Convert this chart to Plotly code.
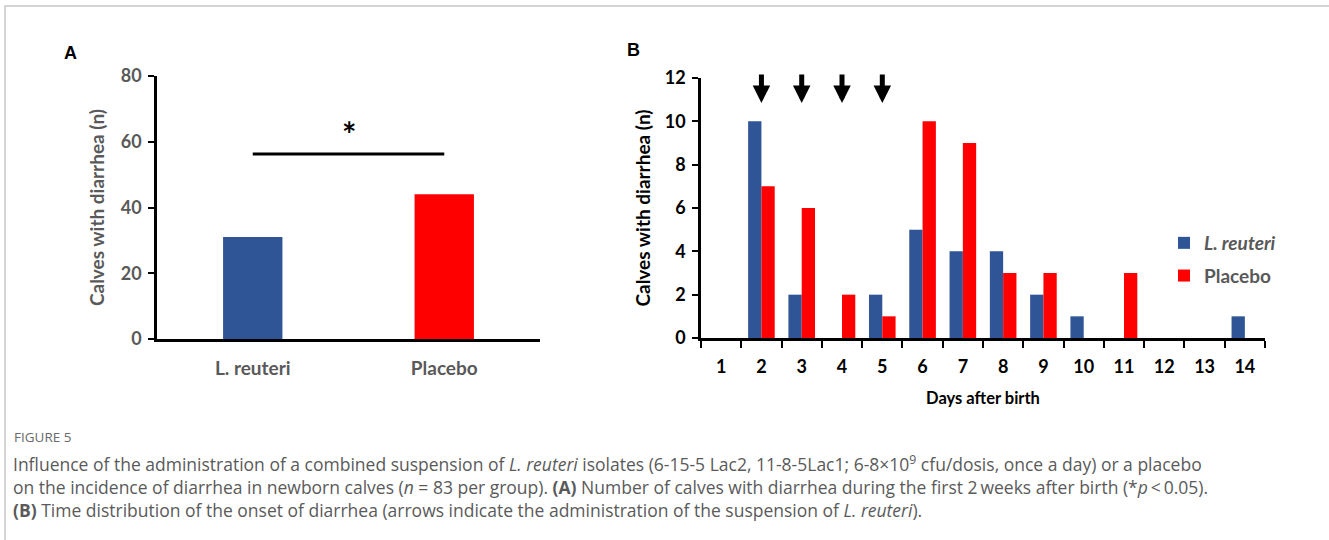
import plotly.graph_objects as go

W, H = 1329, 540

# ---- data ----
groups_a = ["L. reuteri", "Placebo"]
calves_a = [31, 44]
sig_y = 56.3

days = [str(d) for d in range(1, 15)]
reuteri_b = [0, 10, 2, 0, 2, 5, 4, 4, 2, 1, 0, 0, 0, 1]
placebo_b = [0, 7, 6, 2, 1, 10, 9, 3, 3, 0, 3, 0, 0, 0]
arrow_days = ["2", "3", "4", "5"]

yticks_a = [0, 20, 40, 60, 80]
yticks_b = [0, 2, 4, 6, 8, 10, 12]

BLUE = "#2F5597"
RED = "#FF0000"
GRAY = "#595959"
FONT = "Lato"

def px(x):
    return x / W

def py(y):
    return 1 - y / H

fig = go.Figure()

fig.add_trace(go.Bar(
    x=groups_a, y=calves_a, marker=dict(color=[BLUE, RED], line=dict(width=0)),
    width=0.31, xaxis="x", yaxis="y", showlegend=False,
))

fig.add_trace(go.Bar(
    x=days, y=reuteri_b, name="<i>L. reuteri</i>", marker=dict(color=BLUE, line=dict(width=0)),
    width=0.33, offset=-0.33, xaxis="x2", yaxis="y2", legendgroup="a",
))
fig.add_trace(go.Bar(
    x=days, y=placebo_b, name="Placebo", marker=dict(color=RED, line=dict(width=0)),
    width=0.33, offset=0.0, xaxis="x2", yaxis="y2", legendgroup="b",
))

axis_common = dict(showgrid=False, zeroline=False, showline=True, linecolor="black",
                   linewidth=2.5, automargin=False)

fig.update_layout(
    width=W, height=H,
    margin=dict(l=0, r=0, t=0, b=0),
    paper_bgcolor="white", plot_bgcolor="white",
    font=dict(family=FONT),
    barmode="group",
    xaxis=dict(domain=[px(157), px(540)], range=[-0.5, 1.5], type="category",
               ticks="", ticklabelstandoff=10,
               tickfont=dict(size=19, color=GRAY, family=FONT, weight="bold"),
               anchor="y", **axis_common),
    yaxis=dict(domain=[py(339), py(76)], range=[0, 80], tickvals=yticks_a,
               ticks="outside", ticklen=6, tickwidth=2, tickcolor="black", ticklabelstandoff=3,
               tickfont=dict(size=18, color=GRAY, family=FONT, weight="bold"),
               title=dict(text="Calves with diarrhea (n)", standoff=12,
                          font=dict(size=19, color=GRAY, family=FONT, weight="bold")),
               anchor="x", **axis_common),
    xaxis2=dict(domain=[px(701), px(1265)], range=[-0.5, 13.5], type="category",
                ticks="outside", tickson="boundaries", ticklen=7, tickwidth=2, tickcolor="black",
                ticklabelstandoff=11,
                tickfont=dict(size=18, color="black", family=FONT, weight="bold"),
                title=dict(text="Days after birth", standoff=17,
                           font=dict(size=16.5, color="black", family=FONT, weight="bold")),
                anchor="y2", **axis_common),
    yaxis2=dict(domain=[py(338), py(78)], range=[0, 12], tickvals=yticks_b,
                ticks="outside", ticklen=6, tickwidth=2, tickcolor="black", ticklabelstandoff=3,
                tickfont=dict(size=18, color="black", family=FONT, weight="bold"),
                title=dict(text="Calves with diarrhea (n)", standoff=10,
                           font=dict(size=19, color="black", family=FONT, weight="bold")),
                anchor="x2", **axis_common),
    legend=dict(x=px(1164), y=py(224), xanchor="left", yanchor="top",
                bgcolor="rgba(0,0,0,0)", tracegroupgap=5, traceorder="grouped",
                font=dict(size=19, color=GRAY, family=FONT, weight="bold"),
                itemwidth=30),
)

# significance bar and star
fig.add_shape(type="line", xref="x", yref="y", x0=0, x1=1, y0=sig_y, y1=sig_y,
              line=dict(color="black", width=3))
fig.add_annotation(xref="x", yref="y", x=0.5, y=sig_y, yshift=20, yanchor="middle",
                   text="<b>*</b>", showarrow=False,
                   font=dict(size=34, color="black", family=FONT))

# administration arrows (placed at the day's category index)
for d in arrow_days:
    fig.add_annotation(xref="x2", yref="y2", x=days.index(d), y=10.85, ax=0, ay=-30,
                       axref="pixel", ayref="pixel", text="", showarrow=True,
                       arrowhead=2, arrowwidth=5, arrowsize=0.7, arrowcolor="black")

# panel letters
fig.add_annotation(xref="paper", yref="paper", x=px(70), y=py(53), xanchor="center",
                   yanchor="middle", text="<b>A</b>", showarrow=False,
                   font=dict(size=18, color="black", family="Liberation Sans"))
fig.add_annotation(xref="paper", yref="paper", x=px(633), y=py(50), xanchor="center",
                   yanchor="middle", text="<b>B</b>", showarrow=False,
                   font=dict(size=18, color="black", family="Liberation Sans"))

# frame
fig.add_shape(type="rect", xref="paper", yref="paper", x0=px(5), x1=1.05, y0=-0.05, y1=py(6),
              line=dict(color="#C8C8C8", width=1.5), layer="below")

# caption
cap_font = dict(size=17.5, color="#5A5A5A", family="Open Sans")
fig.add_annotation(xref="paper", yref="paper", x=px(12), y=py(437), xanchor="left",
                   yanchor="middle", text="FIGURE 5", showarrow=False,
                   font=dict(size=13.5, color="#6A6A6A", family="Open Sans"))
cap_lines = [
    "Influence of the administration of a combined suspension of <i>L. reuteri</i> isolates (6-15-5 Lac2, 11-8-5Lac1; 6-8×10<sup>9</sup> cfu/dosis, once a day) or a placebo",
    "on the incidence of diarrhea in newborn calves (<i>n</i> = 83 per group). <b>(A)</b> Number of calves with diarrhea during the first 2\u2009weeks after birth (*<i>p</i>\u2009<\u20090.05).",
    "<b>(B)</b> Time distribution of the onset of diarrhea (arrows indicate the administration of the suspension of <i>L. reuteri</i>).",
]
for yy, line in zip([463, 487, 510], cap_lines):
    fig.add_annotation(xref="paper", yref="paper", x=px(11), y=py(yy), xanchor="left",
                       yanchor="middle", text=line, showarrow=False, font=cap_font)

fig.write_html("out.html", config={"displayModeBar": False},
               post_script="document.body.style.margin='0';document.body.style.overflow='hidden';")
